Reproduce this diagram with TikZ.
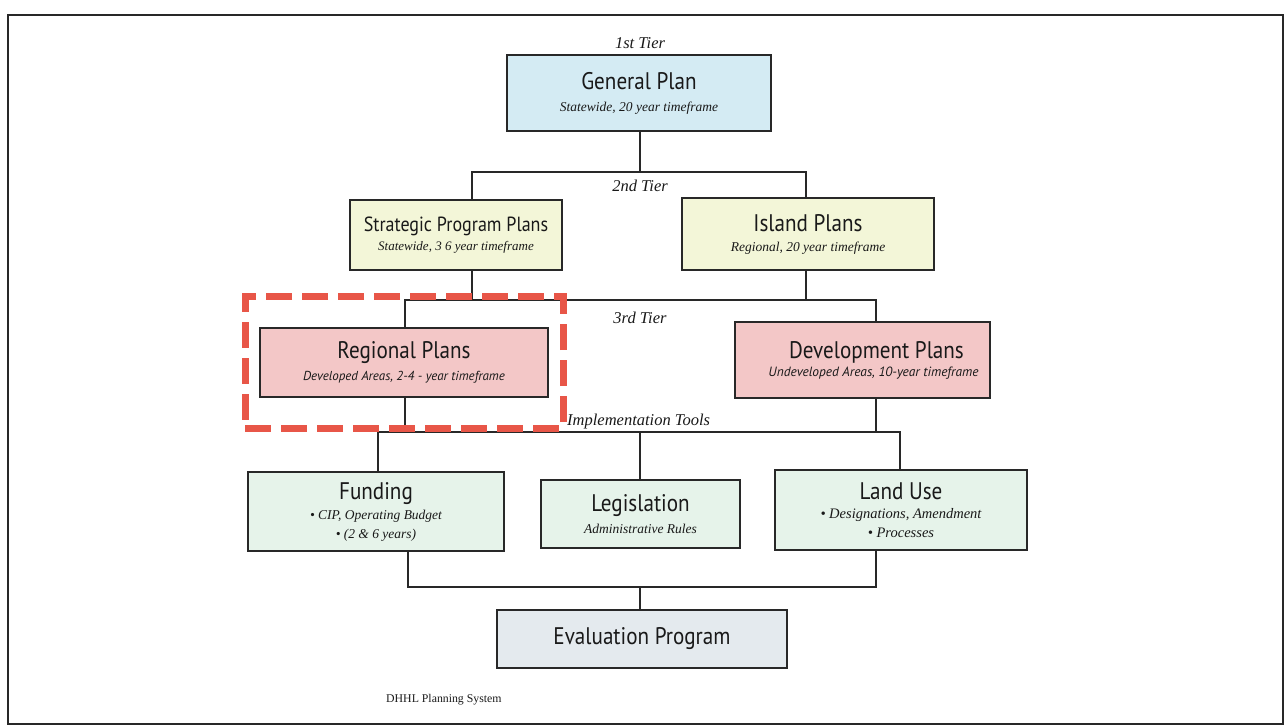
\documentclass[tikz,border=0pt]{standalone}
\usepackage{fontspec}
\newfontfamily\headfont[FakeStretch=0.88]{PT Sans}
\newfontfamily\notesans{PT Sans}
\newfontfamily\noteserif{Liberation Serif}

% box fills
\definecolor{planblue}{RGB}{212,235,243}
\definecolor{planyellow}{RGB}{243,246,216}
\definecolor{planpink}{RGB}{243,199,199}
\definecolor{plangreen}{RGB}{230,243,234}
\definecolor{plangray}{RGB}{228,234,238}
\definecolor{hilitered}{RGB}{232,86,72}
\definecolor{inkgray}{RGB}{40,40,40}

\newcommand\boxtitle[2][24]{{\headfont\fontsize{#1}{#1}\selectfont #2}}
\newcommand\boxnote[2][13.5]{{\noteserif\itshape\fontsize{#1}{15}\selectfont #2}}
\newcommand\boxnotesans[2][13]{{\notesans\itshape\fontsize{#1}{15}\selectfont #2}}
\newcommand\tierlabel[1]{{\noteserif\itshape\fontsize{16.5}{18}\selectfont #1}}

\begin{document}
\begin{tikzpicture}[x=1pt,y=-1pt,
  planbox/.style={draw=inkgray, line width=1.1pt, align=center, inner sep=2pt,
    text=black!90, font=\fontsize{12}{15}\selectfont},
  link/.style={draw=inkgray, line width=1.6pt},
  hilite/.style={draw=hilitered, line width=7pt, dash pattern=on 26pt off 10pt},
  tiertext/.style={inner sep=0pt, text=black!90}]

\useasboundingbox (0,0) rectangle (1285,727);

% outer frame
\draw[inkgray, line width=2pt] (8,15) rectangle (1283,724);

% tier labels
\node[tiertext] (tier1) at (640,43) {\tierlabel{1st Tier}};
\node[tiertext] (tier2) at (640,186) {\tierlabel{2nd Tier}};
\node[tiertext] (tier3) at (640,318) {\tierlabel{3rd Tier}};
\node[tiertext, anchor=west] (tools) at (567,422) {\tierlabel{Implementation Tools}};

% first tier
\node[planbox, fill=planblue, minimum width=264, minimum height=76] (gp) at (639,93)
  {\boxtitle{General Plan}\\[7pt]\boxnote{Statewide, 20 year timeframe}};

% second tier
\node[planbox, fill=planyellow, minimum width=212, minimum height=70] (spp) at (456,235)
  {\boxtitle[20.5]{Strategic Program Plans}\\[4pt]\boxnote[13]{Statewide, 3 6 year timeframe}};
\node[planbox, fill=planyellow, minimum width=252, minimum height=72] (isl) at (808,234)
  {\boxtitle{Island Plans}\\[5pt]\boxnote{Regional, 20 year timeframe}};

% third tier
\node[planbox, fill=planpink, minimum width=288, minimum height=69] (reg) at (404,362.5)
  {\boxtitle{Regional Plans}\\[7pt]\boxnotesans{Developed Areas, 2-4 - year timeframe}};
\node[planbox, fill=planpink, minimum width=255, minimum height=76] (dev) at (862.5,360)
  {\hspace*{28pt}\boxtitle{Development Plans}\\[3pt]\hspace*{22pt}\boxnotesans[13.4]{Undeveloped Areas, 10-year timeframe}};

% implementation tools
\node[planbox, fill=plangreen, minimum width=256, minimum height=79] (fund) at (376,511.5)
  {\boxtitle{Funding}\\[5pt]\boxnote{\textbullet\ CIP, Operating Budget}\\[4pt]\boxnote{\textbullet\ (2 \& 6 years)}};
\node[planbox, fill=plangreen, minimum width=199, minimum height=68] (legis) at (640.5,514)
  {\boxtitle{Legislation}\\[7pt]\boxnote{Administrative Rules}};
\node[planbox, fill=plangreen, minimum width=252, minimum height=80] (land) at (901,510)
  {\boxtitle{Land Use}\\[4pt]\boxnote[14.5]{\textbullet\ Designations, Amendment}\\[4pt]\boxnote[14.5]{\textbullet\ Processes}};

% evaluation
\node[planbox, fill=plangray, minimum width=290, minimum height=58] (eval) at (642,639)
  {\boxtitle{Evaluation Program}};

% caption
\node[inner sep=0pt, anchor=west, text=black!90] (caption) at (386,700)
  {\noteserif\fontsize{11.8}{15}\selectfont DHHL Planning System};

% junction bars
\coordinate (b2L) at (472,172);  \coordinate (b2R) at (806,172);  \coordinate (b2M) at (640,172);
\coordinate (b3L) at (405,300);  \coordinate (b3R) at (876,300);
\coordinate (b3a) at (472,300);  \coordinate (b3b) at (806,300);
\coordinate (b4L) at (378,432);  \coordinate (b4R) at (900,432);
\coordinate (b4a) at (405,432);  \coordinate (b4b) at (876,432);  \coordinate (b4M) at (640,432);
\coordinate (b5L) at (408,587);  \coordinate (b5R) at (876,587);  \coordinate (b5M) at (640,587);

% tier 1 -> tier 2
\draw[link] (gp.south -| b2M) -- (b2M);
\draw[link] (b2L |- spp.north) -- (b2L) -- (b2R) -- (b2R |- isl.north);

% tier 2 -> tier 3
\draw[link] (b3a |- spp.south) -- (b3a);
\draw[link] (b3b |- isl.south) -- (b3b);
\draw[link] (b3L |- reg.north) -- (b3L) -- (b3R) -- (b3R |- dev.north);

% tier 3 -> tools
\draw[link] (b4a |- reg.south) -- (b4a);
\draw[link] (b4b |- dev.south) -- (b4b);
\draw[link] (b4L |- fund.north) -- (b4L) -- (b4R) -- (b4R |- land.north);
\draw[link] (b4M) -- (b4M |- legis.north);

% tools -> evaluation
\draw[link] (b5L |- fund.south) -- (b5L) -- (b5R) -- (b5R |- land.south);
\draw[link] (b5M) -- (b5M |- eval.north);

% highlight around the regional plans
\node[hilite, minimum width=318, minimum height=131, inner sep=0pt] (focus) at (404,362.5) {};

\end{tikzpicture}
\end{document}
